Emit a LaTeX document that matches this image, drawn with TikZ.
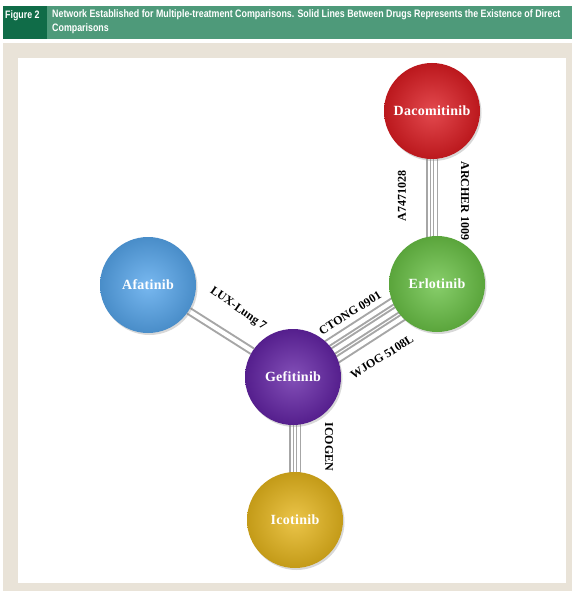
\documentclass[tikz,border=0pt]{standalone}
\usepackage{fontspec}
\setmainfont{Liberation Serif}
\newfontfamily\headfont[FakeStretch=0.82]{Liberation Sans}
\usetikzlibrary{calc,shadows,backgrounds}

\definecolor{hdrdark}{RGB}{16,108,72}
\definecolor{hdrband}{RGB}{78,154,122}
\definecolor{panelbeige}{RGB}{233,227,216}
\definecolor{dacred}{RGB}{220,28,34}
\definecolor{erlgreen}{RGB}{106,194,70}
\definecolor{afablue}{RGB}{86,166,236}
\definecolor{gefpurple}{RGB}{100,36,166}
\definecolor{icogold}{RGB}{230,182,28}

\pgfdeclarelayer{links}
\pgfsetlayers{background,links,main}

\begin{document}
\begin{tikzpicture}[x=1pt,y=-1pt,
    drug/.style={circle,minimum size=96pt,inner sep=0pt,text=white,
      font=\fontsize{14}{16}\selectfont\bfseries\addfontfeature{LetterSpace=2},
      drop shadow={opacity=0.3,shadow xshift=1.5pt,shadow yshift=-2pt}},
    tube/.style={draw=gray!70,line width=1.5pt,double=white,double distance=2.4pt},
    widetube/.style={draw=gray!70,line width=2pt,double=white,double distance=4.2pt},
    trial/.style={inner sep=0pt,font=\fontsize{12}{13}\selectfont\bfseries}]
    \useasboundingbox (0,0) rectangle (572,591);
    \begin{pgfonlayer}{background}
        \fill[white] (0,0) rectangle (572,591);
        \fill[hdrband] (3,6) rectangle (572,39);
        \fill[hdrdark] (3,6) rectangle (47,39);
        \fill[panelbeige] (3,43) rectangle (572,591);
        \fill[white] (18,58) rectangle (566,583);
    \end{pgfonlayer}
    % header
    \node[anchor=west,inner sep=0pt,text=white,font=\headfont\bfseries\fontsize{10.8}{14}\selectfont] (fignum) at (5,16) {Figure 2};
    \node[anchor=north west,inner sep=0pt,align=left,text=white,font=\headfont\bfseries\fontsize{10.8}{14}\selectfont] (caption) at (52,9)
        {Network Established for Multiple-treatment Comparisons. Solid Lines Between Drugs Represents the Existence of Direct\\Comparisons};
    % drugs
    \node[drug,inner color=dacred!80!white,outer color=dacred!85!black] (dac) at (432,111) {Dacomitinib};
    \node[drug,inner color=erlgreen!80!white,outer color=erlgreen!85!black] (erl) at (437,284) {Erlotinib};
    \node[drug,inner color=afablue!80!white,outer color=afablue!85!black] (afa) at (148,285) {Afatinib};
    \node[drug,inner color=gefpurple!80!white,outer color=gefpurple!85!black] (gef) at (293,377) {Gefitinib};
    \node[drug,inner color=icogold!80!white,outer color=icogold!85!black] (ico) at (295,520) {Icotinib};
    % direct comparisons
    \begin{pgfonlayer}{links}
        \foreach \d in {-3.3pt,3.3pt}
            \draw[tube] ([xshift=\d]dac.center) -- ([xshift=\d]dac.center |- erl.center);
        \foreach \d in {-3.3pt,3.3pt}
            \draw[tube] ([xshift=\d]ico.center) -- ([xshift=\d]ico.center |- gef.center);
        \foreach \d in {-9.5pt,0pt,9.5pt}
            \draw[widetube] ($(gef)!\d!90:(erl)$) -- ($(erl)!\d!-90:(gef)$);
        \draw[widetube] (afa) -- (gef);
    \end{pgfonlayer}
    % trial labels
    \node[trial,rotate=-35] (lux) at (238,309) {LUX-Lung 7};
    \node[trial,rotate=32] (ctong) at (350,313) {CTONG 0901};
    \node[trial,rotate=32] (wjog) at (382,357) {WJOG 5108L};
    \node[trial,rotate=90] (a747) at (402,196) {A7471028};
    \node[trial,rotate=-90] (archer) at (465,201) {ARCHER 1009};
    \node[trial,rotate=-90] (icogen) at (329,447) {ICOGEN};
\end{tikzpicture}
\end{document}
